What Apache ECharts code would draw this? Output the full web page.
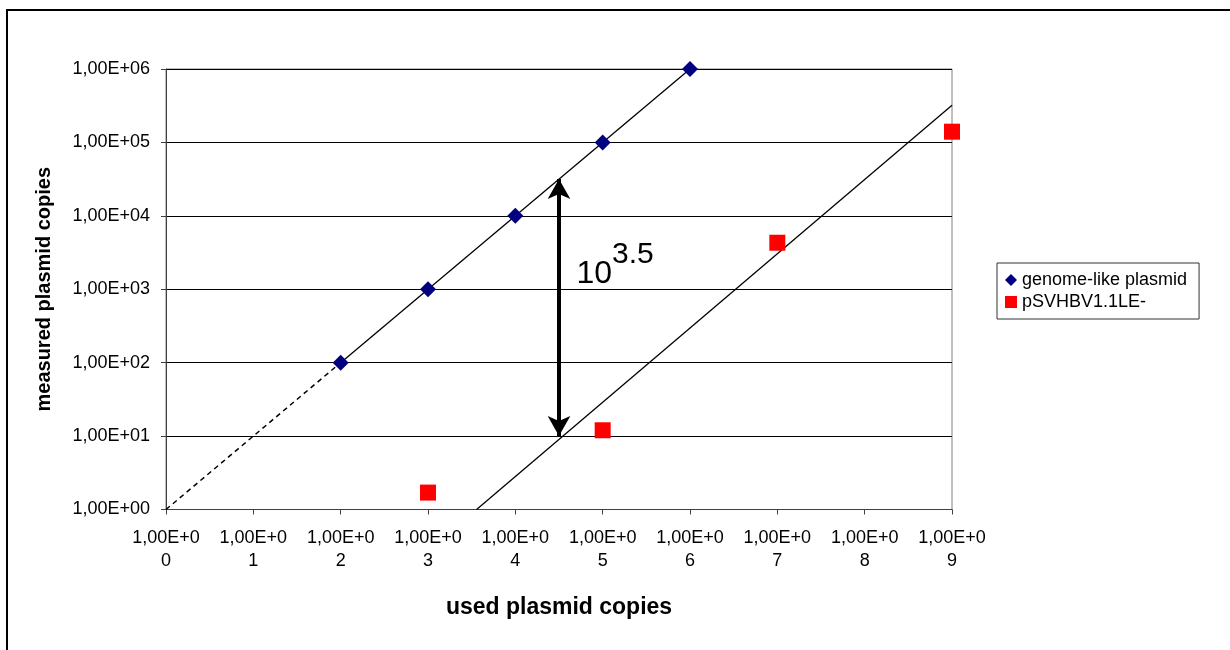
<!DOCTYPE html>
<html>
<head>
<meta charset="utf-8">
<script src="https://cdn.jsdelivr.net/npm/echarts@6/dist/echarts.min.js"></script>
<style>
html,body{margin:0;padding:0;background:#fff;}
#c{width:1230px;height:650px;}
</style>
</head>
<body>
<div id="c"></div>
<script>
// ---- data ----
const genomeX = [1e2, 1e3, 1e4, 1e5, 1e6];
const genomeY = [1e2, 1e3, 1e4, 1e5, 1e6];
const pSVX = [1e3, 1e5, 1e7, 1e9];
const pSVY = [1.7, 12, 4300, 140000];
const fitGenomeDashedX = [1, 100];
const fitGenomeDashedY = [1, 100];
const fitGenomeSolidX = [100, 1e6];
const fitGenomeSolidY = [100, 1e6];
const fitPSVX = [3600, 1e9];
const fitPSVY = [1, 320000];
const arrowX = 31623;
const arrowY = [31623, 10];
const annotX = 50000;
const annotY = 1620;
const seriesNames = ['genome-like plasmid', 'pSVHBV1.1LE-'];
const xTitle = 'used plasmid copies';
const yTitle = 'measured plasmid copies';

const FONT = 'Liberation Sans, Arial, sans-serif';
const zip = (a, b) => a.map((v, i) => [v, b[i]]);
const expOf = v => Math.round(Math.log10(v));

const chart = echarts.init(document.getElementById('c'));
chart.setOption({
  animation: false,
  backgroundColor: '#fff',
  graphic: [{
    type: 'rect',
    shape: {x: 7, y: 10, width: 1240, height: 660},
    style: {fill: 'none', stroke: '#000', lineWidth: 2},
    silent: true
  }],
  grid: {
    left: 166, right: 278, top: 69, bottom: 140.5,
    show: true, borderColor: '#808080', borderWidth: 1, backgroundColor: 'transparent'
  },
  legend: {
    data: seriesNames,
    orient: 'vertical',
    left: 997, top: 263,
    borderColor: '#333', borderWidth: 1,
    padding: [8, 12, 8, 8],
    itemGap: 4,
    itemWidth: 12, itemHeight: 12,
    textStyle: {fontFamily: FONT, fontSize: 18, color: '#000', lineHeight: 18}
  },
  xAxis: {
    type: 'log', logBase: 10, min: 1, max: 1e9, interval: 1, splitNumber: 9,
    name: xTitle, nameLocation: 'middle', nameGap: 87,
    nameTextStyle: {fontFamily: FONT, fontSize: 23, fontWeight: 'bold', color: '#000'},
    axisLine: {lineStyle: {color: '#404040', width: 1}},
    axisTick: {show: true, length: 5, lineStyle: {color: '#404040'}},
    axisLabel: {
      fontFamily: FONT, fontSize: 18, color: '#000', margin: 17, lineHeight: 23,
      formatter: v => '1,00E+0\n' + expOf(v)
    },
    splitLine: {show: false}
  },
  yAxis: {
    type: 'log', logBase: 10, min: 1, max: 1e6, interval: 1, splitNumber: 6,
    name: yTitle, nameLocation: 'middle', nameGap: 112, nameRotate: 90,
    nameTextStyle: {fontFamily: FONT, fontSize: 20, fontWeight: 'bold', color: '#000'},
    axisLine: {show: true, lineStyle: {color: '#404040', width: 1}},
    axisTick: {show: true, length: 5, lineStyle: {color: '#404040'}},
    axisLabel: {
      fontFamily: FONT, fontSize: 18, color: '#000', margin: 16,
      formatter: v => { const e = expOf(v); return '1,00E+' + (e < 10 ? '0' + e : e); }
    },
    splitLine: {show: true, lineStyle: {color: '#000', width: 1}}
  },
  series: [
    {
      type: 'line', data: zip(fitGenomeDashedX, fitGenomeDashedY), showSymbol: false, silent: true,
      lineStyle: {color: '#000', width: 1.5, type: [5, 4]}, z: 3
    },
    {
      type: 'line', data: zip(fitGenomeSolidX, fitGenomeSolidY), showSymbol: false, silent: true,
      lineStyle: {color: '#000', width: 1.3}, z: 3
    },
    {
      type: 'line', data: zip(fitPSVX, fitPSVY), showSymbol: false, silent: true,
      lineStyle: {color: '#000', width: 1.3}, z: 3,
      markLine: {
        silent: true,
        symbol: ['arrow', 'arrow'],
        symbolSize: [17, 20],
        label: {show: false},
        lineStyle: {color: '#000', width: 4, type: 'solid'},
        data: [[{coord: [arrowX, arrowY[0]]}, {coord: [arrowX, arrowY[1]]}]]
      }
    },
    {
      type: 'scatter', data: [[annotX, annotY]], symbolSize: 0, silent: true, z: 4,
      itemStyle: {opacity: 1, color: '#000'},
      label: {
        show: true, position: 'right', distance: 0, color: '#000',
        formatter: '{a|10}{b|3.5}',
        rich: {
          a: {fontFamily: FONT, fontSize: 32, color: '#000', verticalAlign: 'bottom', lineHeight: 32},
          b: {fontFamily: FONT, fontSize: 30, color: '#000', verticalAlign: 'bottom', lineHeight: 30, padding: [0, 0, 20, 0]}
        }
      }
    },
    {
      name: seriesNames[0], type: 'scatter', data: zip(genomeX, genomeY),
      symbol: 'diamond', symbolSize: 16, itemStyle: {color: '#000080', opacity: 1}, z: 5
    },
    {
      name: seriesNames[1], type: 'scatter', data: zip(pSVX, pSVY),
      symbol: 'rect', symbolSize: 16, itemStyle: {color: '#ff0000', opacity: 1}, z: 5
    }
  ]
});
</script>
</body>
</html>
